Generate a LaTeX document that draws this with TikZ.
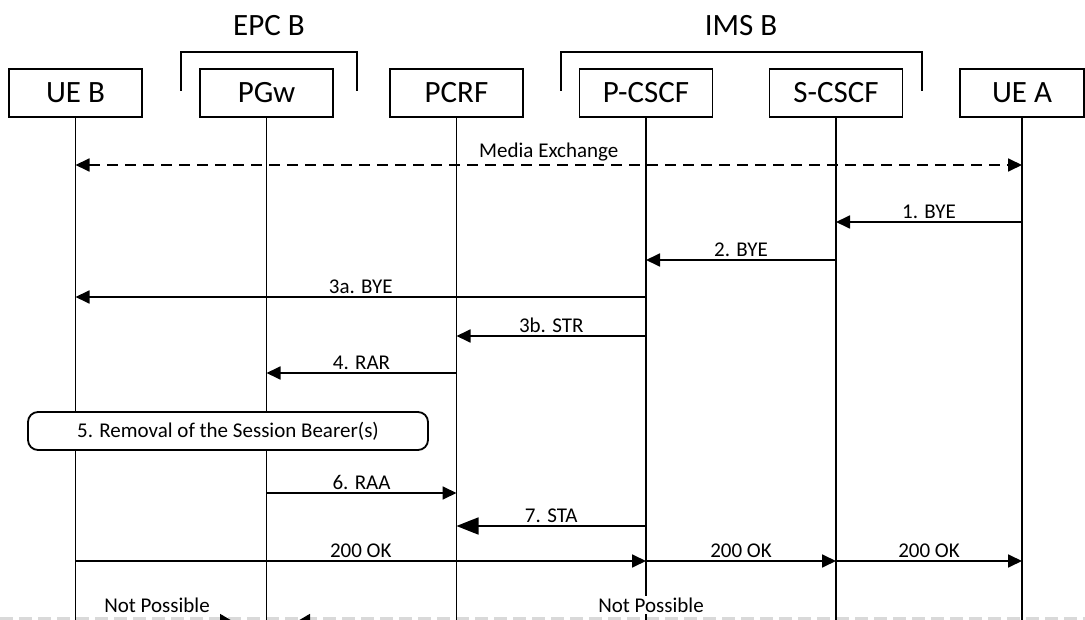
\documentclass[tikz,border=0pt]{standalone}
\usepackage{fontspec}
\setmainfont{Carlito}
\usetikzlibrary{arrows.meta}
\begin{document}
\begin{tikzpicture}[x=1pt,y=-1pt,
  ent/.style={draw,line width=1.8pt,minimum width=133pt,minimum height=48pt,inner sep=0pt,font=\fontsize{31}{33}\selectfont},
  hdr/.style={inner sep=0pt,font=\fontsize{31}{33}\selectfont},
  life/.style={line width=1.8pt},
  brk/.style={line width=1.8pt},
  msg/.style={line width=1.8pt,-{Triangle[length=14pt,width=13pt]}},
  bigmsg/.style={line width=1.8pt,-{Triangle[length=22pt,width=17pt]}},
  dmsg/.style={line width=1.8pt,dash pattern=on 11pt off 7pt,{Triangle[length=14pt,width=13pt]}-{Triangle[length=14pt,width=13pt]}},
  lbl/.style={font=\fontsize{21}{23}\selectfont,inner sep=1pt,above=1.5pt},
  actbox/.style={draw,fill=white,line width=1.8pt,rounded corners=10pt,minimum width=400pt,minimum height=38pt,inner sep=0pt,font=\fontsize{21}{23}\selectfont},
  np/.style={fill=white,inner sep=1.5pt,font=\fontsize{21}{23}\selectfont},
  cut/.style={draw=black!15,line width=2.5pt,dash pattern=on 13pt off 6pt}
]
\useasboundingbox (0,0) rectangle (1085,620);
\clip (0,0) rectangle (1085,620);

% headers and brackets
\node[hdr] (epc) at (269,26) {EPC B};
\node[hdr] (ims) at (741,26) {IMS B};
\draw[brk] (181,91) -- (181,52) -- (357,52) -- (357,91);
\draw[brk] (561,91) -- (561,52) -- (922,52) -- (922,91);

% entities
\node[ent] (ueb) at (75.5,93) {UE B};
\node[ent] (pgw) at (266.5,93) {PGw};
\node[ent] (pcrf) at (456.5,93) {PCRF};
\node[ent] (pcscf) at (646,93) {P-CSCF};
\node[ent] (scscf) at (836,93) {S-CSCF};
\node[ent,minimum width=124pt] (uea) at (1022,93) {UE A};

\coordinate (bot) at (0,625);

% cut line at the bottom
\draw[cut] (0,618.5) -- (1085,618.5);

% lifelines
\foreach \n in {ueb,pgw,pcrf,pcscf,scscf,uea}
  \draw[life] (\n.south) -- (\n.south |- bot);

% message rows
\coordinate (y0) at (0,165);
\coordinate (y1) at (0,222);
\coordinate (y2) at (0,260);
\coordinate (y3) at (0,297);
\coordinate (y4) at (0,336);
\coordinate (y5) at (0,373);
\coordinate (y7) at (0,493);
\coordinate (y8) at (0,526);
\coordinate (y9) at (0,561);
\coordinate (y10) at (0,622);

\draw[dmsg] (ueb |- y0) -- node[lbl] (l0) {Media Exchange} (uea |- y0);
\draw[msg] (uea |- y1) -- node[lbl] (l1) {1. BYE} (scscf |- y1);
\draw[msg] (scscf |- y2) -- node[lbl] (l2) {2. BYE} (pcscf |- y2);
\draw[msg] (pcscf |- y3) -- node[lbl] (l3) {3a. BYE} (ueb |- y3);
\draw[msg] (pcscf |- y4) -- node[lbl] (l4) {3b. STR} (pcrf |- y4);
\draw[msg] (pcrf |- y5) -- node[lbl] (l5) {4. RAR} (pgw |- y5);

\node[actbox] (rem) at (228,431) {5. Removal of the Session Bearer(s)};

\draw[msg] (pgw |- y7) -- node[lbl] (l7) {6. RAA} (pcrf |- y7);
\draw[bigmsg] (pcscf |- y8) -- node[lbl] (l8) {7. STA} (pcrf |- y8);
\draw[msg] (ueb |- y9) -- node[lbl] (l9) {200 OK} (pcscf |- y9);
\draw[msg] (pcscf |- y9) -- node[lbl] (l10) {200 OK} (scscf |- y9);
\draw[msg] (scscf |- y9) -- node[lbl] (l11) {200 OK} (uea |- y9);

% "Not Possible" (cut off at the bottom)
\coordinate (t1) at (234,622);
\coordinate (t2) at (296,622);
\draw[msg,-{Triangle[length=14pt,width=16pt]}] (ueb |- y10) -- (t1);
\draw[msg,-{Triangle[length=14pt,width=16pt]}] (pcrf |- y10) -- (t2);
\node[np] (np1) at (157,605) {Not Possible};
\node[np] (np2) at (651,605) {Not Possible};
\end{tikzpicture}
\end{document}
